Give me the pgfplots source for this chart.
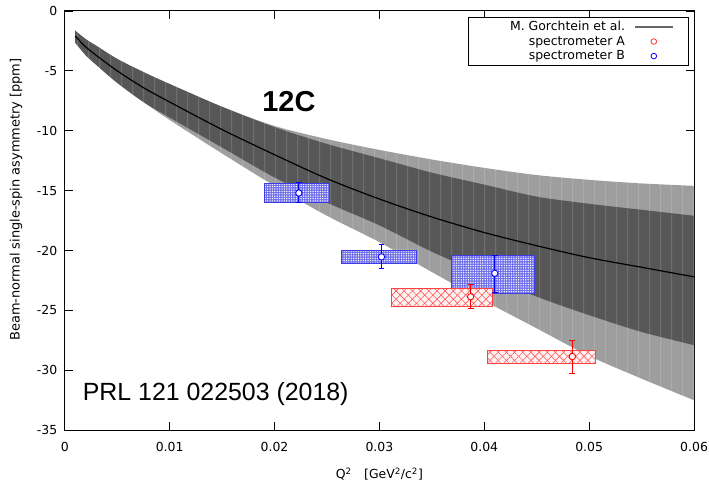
\documentclass[border=0pt]{standalone}
\usepackage{fontspec}
\setmainfont{DejaVu Sans}
\newfontfamily\arialfont{Liberation Sans}
\usepackage{pgfplots}
\usepackage{pgfplotstable}
\pgfplotsset{compat=1.18}
\usepgfplotslibrary{fillbetween}
\usetikzlibrary{patterns, patterns.meta}

% thin light stripes across the theory band
\tikzdeclarepattern{
  name=vstripes,
  type=uncolored,
  bounding box={(0pt,0pt) and (10.53pt,10pt)},
  tile size={(10.53pt,10pt)},
  code={\draw[line width=0.9pt] (5pt,-1pt) -- (5pt,11pt);}
}

% theory: central curve, inner (dark) and outer (light) bands
\pgfplotstableread{
x       c      dtop   dbot   ltop   lbot
0.0010  -2.1   -1.65  -2.65  -1.65  -2.65
0.0020  -3.0   -2.35  -3.7   -2.35  -3.7
0.0030  -3.7   -2.9   -4.5   -2.9   -4.5
0.0050  -5.0   -4.0   -6.0   -4.0   -6.0
0.0075  -6.4   -5.1   -7.6   -5.1   -7.6
0.0100  -7.6   -6.1   -8.9   -6.1   -9.1
0.0150  -9.9   -8.0   -11.4  -8.0   -11.9
0.0200  -12.0  -9.7   -13.9  -9.6   -14.6
0.0250  -14.0  -11.1  -16.0  -10.7  -17.1
0.0300  -15.7  -12.3  -17.9  -11.6  -19.3
0.0350  -17.2  -13.5  -20.1  -12.4  -21.8
0.0400  -18.5  -14.5  -22.0  -13.1  -24.2
0.0450  -19.6  -15.5  -23.85 -13.7  -26.5
0.0500  -20.6  -16.1  -25.4  -14.1  -28.8
0.0550  -21.4  -16.6  -26.8  -14.4  -30.7
0.0600  -22.2  -17.1  -27.9  -14.6  -32.5
}\theory

\pgfplotsset{
  lineleg/.style={legend image code/.code={\path[draw=none] (-8pt,0pt) -- (52pt,0pt);
      \draw[##1] (0pt,0pt) -- (38pt,0pt);}},
  markleg/.style={legend image code/.code={\path[draw=none] (-8pt,0pt) -- (52pt,0pt);
      \draw[##1, only marks] plot coordinates {(19pt,0pt)};}},
  bluebox/.style={draw={rgb,255:red,60;green,60;blue,230}, line width=0.8pt,
      fill={rgb,255:red,110;green,110;blue,235},
      postaction={pattern={Dots[radius=0.75pt,distance=2.4pt]}, pattern color=white}},
  redbox/.style={draw=red!75, line width=0.8pt, fill=red!5,
      postaction={pattern={Lines[angle=45,distance=5.8pt,line width=0.6pt]}, pattern color=red!65},
      postaction={pattern={Lines[angle=-45,distance=5.8pt,line width=0.6pt]}, pattern color=red!65}},
}

\begin{document}
\begin{tikzpicture}
\begin{axis}[
  width=632pt, height=421pt, scale only axis,
  xmin=0, xmax=0.06, ymin=-35, ymax=0,
  xtick={0,0.01,0.02,0.03,0.04,0.05,0.06},
  ytick={-35,-30,-25,-20,-15,-10,-5,0},
  scaled x ticks=false,
  tick align=inside, major tick length=8pt,
  axis line style={line width=1pt},
  every tick/.style={black, line width=0.8pt},
  /pgf/number format/assume math mode=true,
  tick label style={font=\fontsize{12.5}{15}\selectfont},
  xticklabel style={/pgf/number format/fixed, /pgf/number format/precision=2, yshift=-9pt},
  yticklabel style={xshift=-4pt},
  xlabel={Q\textsuperscript{2}\quad[GeV\textsuperscript{2}/c\textsuperscript{2}]},
  ylabel={Beam-normal single-spin asymmetry [ppm]},
  every axis x label/.style={at={(axis description cs:0.5,-0.1045)}, anchor=center,
    font=\fontsize{12.5}{15}\selectfont},
  every axis y label/.style={at={(axis description cs:-0.0775,0.55)}, anchor=center, rotate=90,
    font=\fontsize{13}{15}\selectfont},
  legend plot pos=right,
  legend style={at={(rel axis cs:1,1)}, anchor=north east, xshift=-5pt, yshift=-6pt,
    draw=black, line width=0.8pt, font=\fontsize{12.5}{14}\selectfont,
    inner xsep=2pt, inner ysep=2pt, row sep=0pt, cells={anchor=east}},
]
  \coordinate (sw) at (rel axis cs:0,0);
  \coordinate (ne) at (rel axis cs:1,1);

  % bands
  \addplot[draw=none, smooth, name path=ltop, forget plot] table[x=x, y=ltop] {\theory};
  \addplot[draw=none, smooth, name path=lbot, forget plot] table[x=x, y=lbot] {\theory};
  \addplot[draw=none, smooth, name path=dtop, forget plot] table[x=x, y=dtop] {\theory};
  \addplot[draw=none, smooth, name path=dbot, forget plot] table[x=x, y=dbot] {\theory};
  \addplot[fill=black!38, draw=none, forget plot] fill between[of=ltop and lbot];
  \addplot[fill=black!66, draw=none, forget plot] fill between[of=dtop and dbot];
  \addplot[pattern=vstripes, pattern color=white, fill opacity=0.22, draw=none, forget plot]
    fill between[of=ltop and lbot];
  \addplot[black, line width=1.2pt, smooth, forget plot] table[x=x, y=c] {\theory};

  % systematic boxes
  \addplot[bluebox, forget plot] coordinates {(0.0190,-14.4) (0.02526,-14.4) (0.02526,-16.0) (0.0190,-16.0)} -- cycle;
  \addplot[bluebox, forget plot] coordinates {(0.0264,-19.95) (0.0335,-19.95) (0.0335,-21.1) (0.0264,-21.1)} -- cycle;
  \addplot[bluebox, forget plot] coordinates {(0.03685,-20.37) (0.0448,-20.37) (0.0448,-23.6) (0.03685,-23.6)} -- cycle;
  \addplot[redbox, forget plot] coordinates {(0.0311,-23.2) (0.0408,-23.2) (0.0408,-24.7) (0.0311,-24.7)} -- cycle;
  \addplot[redbox, forget plot] coordinates {(0.0403,-28.35) (0.0506,-28.35) (0.0506,-29.4) (0.0403,-29.4)} -- cycle;

  % data points
  \addplot[blue, only marks, mark=*, mark size=3.2pt,
    mark options={fill=white, draw=blue, line width=0.9pt}, forget plot,
    error bars/.cd, y dir=both, y explicit,
    error bar style={line width=1.2pt, blue},
    error mark options={rotate=90, mark size=3pt, line width=1pt, blue}]
    coordinates {
      (0.02232,-15.2)  += (0,0.9) -= (0,0.8)
      (0.0302,-20.53)  += (0,1.0) -= (0,1.0)
      (0.0410,-21.9)   += (0,1.5) -= (0,1.6)
    };
  \addplot[red, only marks, mark=*, mark size=3.2pt,
    mark options={fill=white, draw=red, line width=0.9pt}, forget plot,
    error bars/.cd, y dir=both, y explicit,
    error bar style={line width=1.2pt, red},
    error mark options={rotate=90, mark size=3pt, line width=1pt, red}]
    coordinates {
      (0.0387,-23.86)  += (0,1.0) -= (0,1.0)
      (0.0484,-28.85)  += (0,1.35) -= (0,1.45)
    };

  \addlegendimage{lineleg, black!60, line width=1.5pt}
  \addlegendentry{\hspace*{38pt}M. Gorchtein et al.}
  \addlegendimage{markleg, mark=o, mark size=2.8pt, red!80, line width=0.8pt}
  \addlegendentry{spectrometer A}
  \addlegendimage{markleg, mark=o, mark size=2.8pt, blue, line width=0.8pt}
  \addlegendentry{spectrometer B}

  \node[font=\arialfont\bfseries\fontsize{29}{30}\selectfont] at (axis cs:0.02137,-7.6) {12C};
  \node[font=\arialfont\fontsize{25}{26}\selectfont, anchor=base west, inner sep=0pt]
    at (axis cs:0.00171,-32.5) {PRL 121 022503 (2018)};
\end{axis}
\pgfresetboundingbox
\path[use as bounding box] ([xshift=-65pt,yshift=-53pt]sw) rectangle ([xshift=15pt,yshift=11pt]ne);
\end{tikzpicture}
\end{document}
